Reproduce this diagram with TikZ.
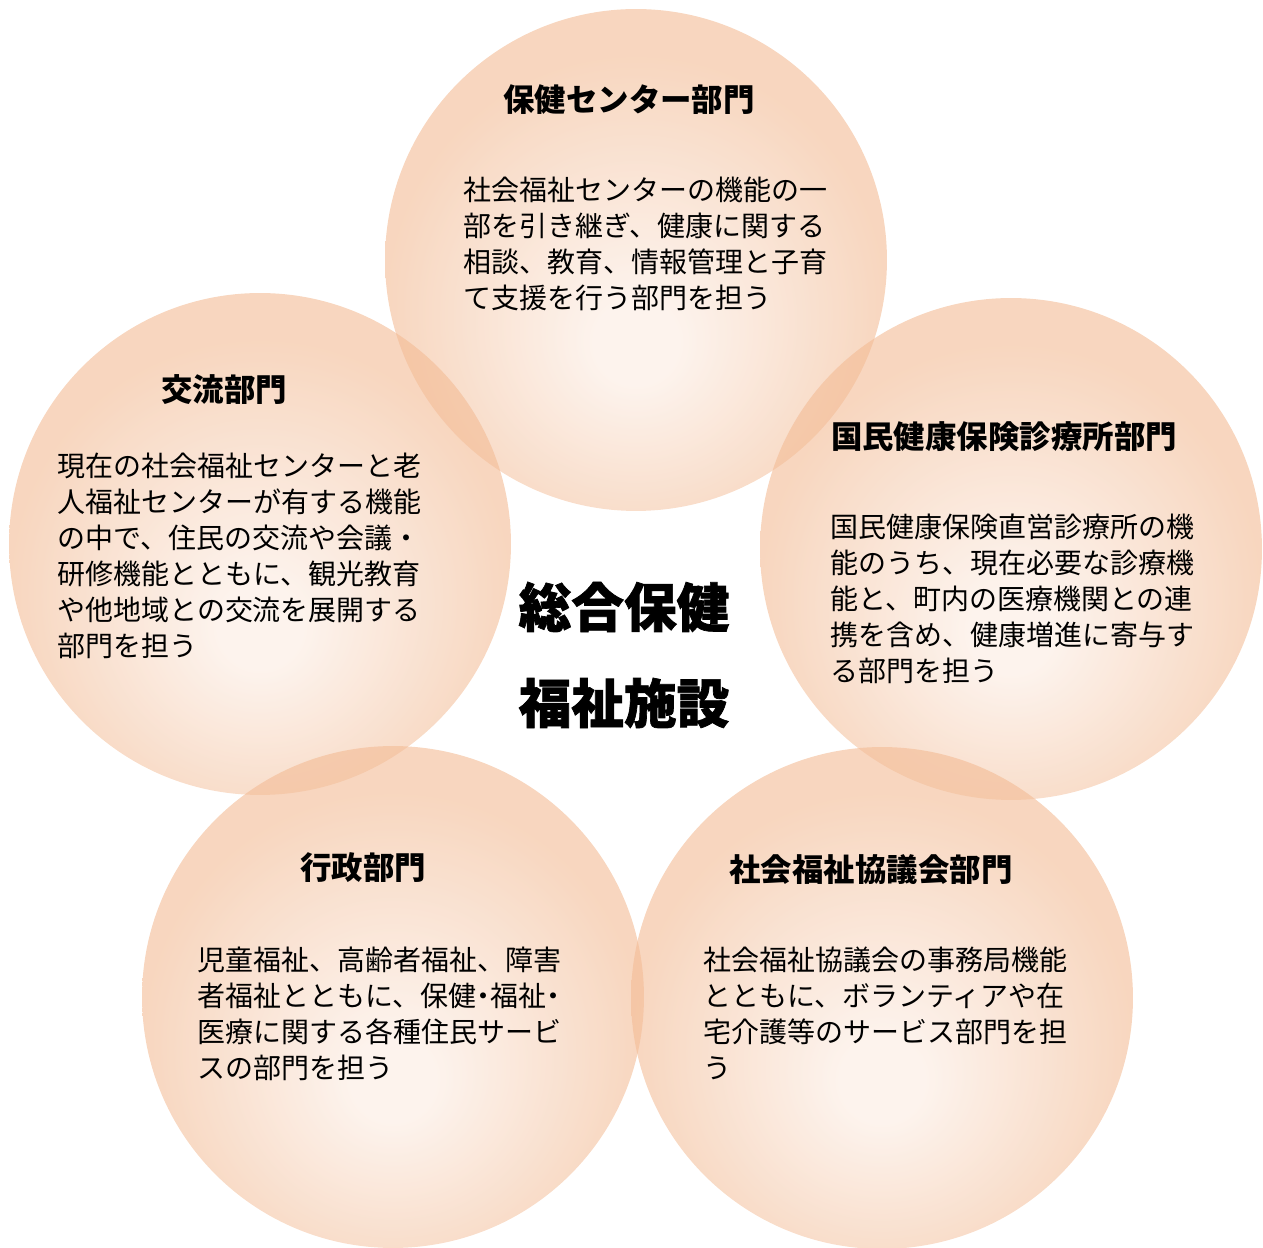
\documentclass[tikz,border=0pt]{standalone}
\usepackage{fontspec}
\setmainfont{Noto Sans CJK JP}
\newfontfamily\corefont[BoldFeatures={FakeBold=1.3}]{Noto Sans CJK JP}
\usetikzlibrary{positioning}
\definecolor{petalin}{RGB}{251,236,226}
\definecolor{petalout}{RGB}{243,188,150}
\pgfdeclareradialshading{petal}{\pgfpoint{0bp}{-9bp}}{color(0bp)=(petalin); color(4bp)=(petalin); color(25bp)=(petalout); color(50bp)=(petalout)}
\newcommand{\halfdot}{\hbox to 0.5em{\hss ・\hss}}

\begin{document}
\begin{tikzpicture}[x=0.02cm,y=0.02cm,
    bubble/.style={circle,minimum size=10.04cm,inner sep=0pt,shade,
                   shading=petal,fill opacity=0.61},
    head/.style={font=\fontsize{17.9}{20}\selectfont\bfseries,inner sep=0pt},
    body/.style={font=\fontsize{15.93}{20.49}\selectfont,align=left,
                 anchor=north west,inner sep=0pt},
    core/.style={font=\corefont\fontsize{30}{34}\selectfont\bfseries,inner sep=0pt}]
  \useasboundingbox (0,0) rectangle (1263,1247);

  % the five departments
  \node[bubble] (hoken)   at (636,987) {};
  \node[bubble] (koryu)   at (260,703) {};
  \node[bubble] (shinryo) at (1011,698) {};
  \node[bubble] (gyosei)  at (393,250) {};
  \node[bubble] (shakyo)  at (882,249) {};

  \node[head] (hokenT)   at (629,1147) {保健センター部門};
  \node[head] (koryuT)   at (224,857)  {交流部門};
  \node[head] (shinryoT) at (1004,810) {国民健康保険診療所部門};
  \node[head] (gyoseiT)  at (363,379)  {行政部門};
  \node[head] (shakyoT)  at (871,377)  {社会福祉協議会部門};

  \node[body] (hokenB) at (463,1070) {社会福祉センターの機能の一\\
    部を引き継ぎ、健康に関する\\相談、教育、情報管理と子育\\
    て支援を行う部門を担う};
  \node[body] (koryuB) at (57,794) {現在の社会福祉センターと老\\
    人福祉センターが有する機能\\の中で、住民の交流や会議・\\
    研修機能とともに、観光教育\\や他地域との交流を展開する\\部門を担う};
  \node[body] (shinryoB) at (830,733) {国民健康保険直営診療所の機\\
    能のうち、現在必要な診療機\\能と、町内の医療機関との連\\
    携を含め、健康増進に寄与す\\る部門を担う};
  \node[body] (gyoseiB) at (197,300) {児童福祉、高齢者福祉、障害\\
    者福祉とともに、保健\halfdot 福祉\halfdot\\医療に関する各種住民サービ\\
    スの部門を担う};
  \node[body] (shakyoB) at (703,300) {社会福祉協議会の事務局機能\\
    とともに、ボランティアや在\\宅介護等のサービス部門を担\\う};

  % centre title
  \node[core] (coreA) at (624,640) {総合保健};
  \node[core] (coreB) at (624,544) {福祉施設};
\end{tikzpicture}
\end{document}
